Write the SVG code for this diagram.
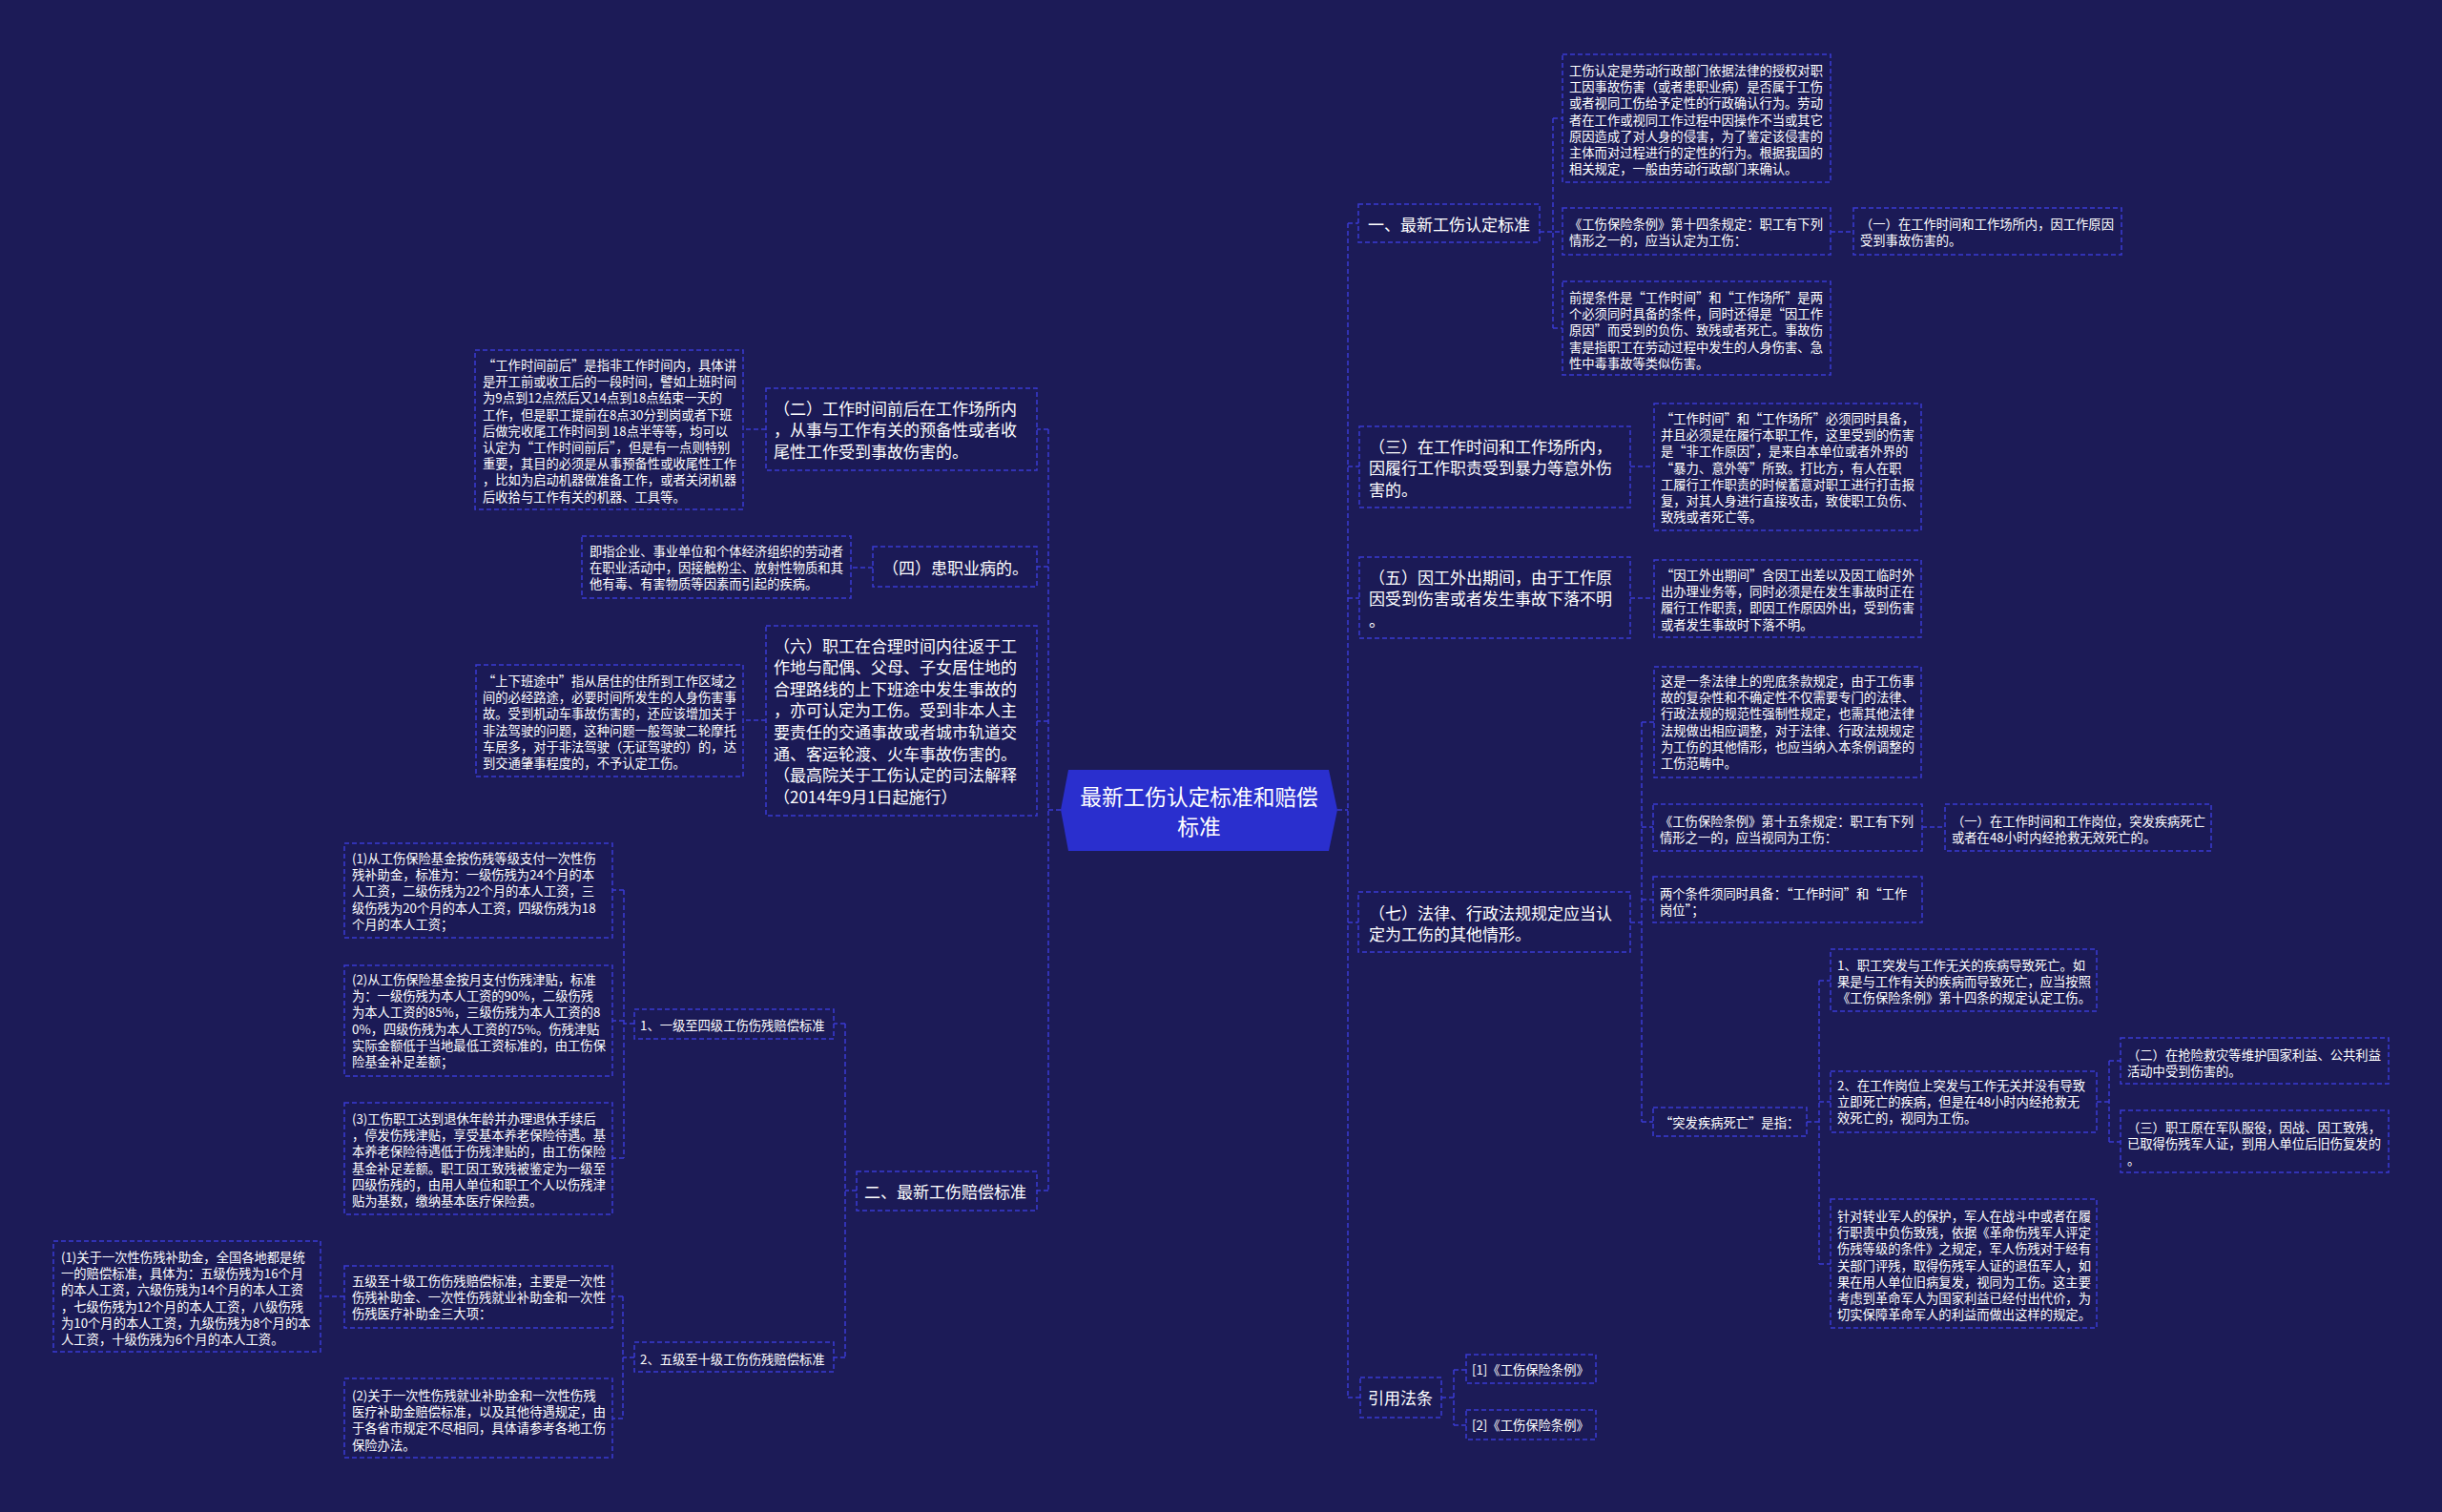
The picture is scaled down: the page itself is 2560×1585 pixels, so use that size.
<svg xmlns="http://www.w3.org/2000/svg" width="2560" height="1585" viewBox="0 0 2560 1585">
<style>
.box{fill:#1b1a56;stroke:#3a3bd3;stroke-width:1.5;stroke-dasharray:5 3}
.t{font-family:"Noto Sans CJK SC","Noto Sans",sans-serif;fill:#ffffff}
.s{font-size:13.3px}
.m{font-size:17px}
.c{font-size:22.7px}
#connectors path{fill:none;stroke:#3a3bd3;stroke-width:1.5;stroke-dasharray:5 3}
</style>
<rect width="2560" height="1585" fill="#1c1b57"/>
<g id="connectors">
<path d="M1402,849H1413M1413,234V1465M1413,234H1424M1413,489H1425M1413,627H1425M1413,967H1424M1413,1465H1426"/>
<path d="M1614,243H1638M1628,124V344M1628,124H1638M1628,344H1638M1919,243H1943"/>
<path d="M1709,489H1734M1709,627H1734"/>
<path d="M1709,967H1721M1721,757V1176M1721,757H1734M1721,867H1733M1721,943H1733M1721,1176H1733M2015,867H2039"/>
<path d="M1894,1176H1907M1907,1028V1325M1907,1028H1919M1907,1155H1919M1907,1325H1919"/>
<path d="M2198,1155H2211M2211,1112V1197M2211,1112H2223M2211,1197H2223"/>
<path d="M1511,1465H1524M1524,1436V1494M1524,1436H1537M1524,1494H1537"/>
<path d="M1112,849H1099M1099,450V1248M1099,450H1087M1099,594H1087M1099,756H1087M1099,1248H1087"/>
<path d="M803,450H779M915,595H892M803,755H779"/>
<path d="M898,1248H886M886,1073V1423M886,1073H874M886,1423H874"/>
<path d="M665,1073H654M654,933V1214M654,933H642M654,1070H642M654,1214H642"/>
<path d="M665,1423H653M653,1359V1487M653,1359H642M653,1487H642M361,1359H336"/>
</g>

<g id="center">
<polygon points="1112,849 1120,807 1393,807 1402,849 1393,892 1120,892" fill="#2a2fce"/>
<text class="t c" text-anchor="middle" x="1257" y="843.6">最新工伤认定标准和赔偿</text>
<text class="t c" text-anchor="middle" x="1257" y="874.6">标准</text>
</g>

<g id="r1">
<rect class="box" x="1424" y="214" width="190" height="40"/>
<text class="t m" x="1434" y="241.5">一、最新工伤认定标准</text>
</g>
<g id="r1a">
<rect class="box" x="1638" y="57" width="281" height="134"/>
<text class="t s" x="1645" y="79"><tspan x="1645">工伤认定是劳动行政部门依据法律的授权对职</tspan><tspan x="1645" dy="17.2">工因事故伤害（或者患职业病）是否属于工伤</tspan><tspan x="1645" dy="17.2">或者视同工伤给予定性的行政确认行为。劳动</tspan><tspan x="1645" dy="17.2">者在工作或视同工作过程中因操作不当或其它</tspan><tspan x="1645" dy="17.2">原因造成了对人身的侵害，为了鉴定该侵害的</tspan><tspan x="1645" dy="17.2">主体而对过程进行的定性的行为。根据我国的</tspan><tspan x="1645" dy="17.2">相关规定，一般由劳动行政部门来确认。</tspan></text>
</g>
<g id="r1b">
<rect class="box" x="1638" y="218" width="281" height="49"/>
<text class="t s" x="1645" y="240"><tspan x="1645">《工伤保险条例》第十四条规定：职工有下列</tspan><tspan x="1645" dy="17.2">情形之一的，应当认定为工伤：</tspan></text>
</g>
<g id="r1b1">
<rect class="box" x="1943" y="218" width="281" height="49"/>
<text class="t s" x="1950" y="240"><tspan x="1950">（一）在工作时间和工作场所内，因工作原因</tspan><tspan x="1950" dy="17.2">受到事故伤害的。</tspan></text>
</g>
<g id="r1c">
<rect class="box" x="1638" y="295" width="281" height="98"/>
<text class="t s" x="1645" y="317"><tspan x="1645">前提条件是“工作时间”和“工作场所”是两</tspan><tspan x="1645" dy="17.2">个必须同时具备的条件，同时还得是“因工作</tspan><tspan x="1645" dy="17.2">原因”而受到的负伤、致残或者死亡。事故伤</tspan><tspan x="1645" dy="17.2">害是指职工在劳动过程中发生的人身伤害、急</tspan><tspan x="1645" dy="17.2">性中毒事故等类似伤害。</tspan></text>
</g>

<g id="r3">
<rect class="box" x="1425" y="447" width="284" height="85"/>
<text class="t m" x="1435" y="474.5"><tspan x="1435">（三）在工作时间和工作场所内，</tspan><tspan x="1435" dy="22.6">因履行工作职责受到暴力等意外伤</tspan><tspan x="1435" dy="22.6">害的。</tspan></text>
</g>
<g id="r3a">
<rect class="box" x="1734" y="423" width="280" height="133"/>
<text class="t s" x="1741" y="444"><tspan x="1741">“工作时间”和“工作场所”必须同时具备，</tspan><tspan x="1741" dy="17.2">并且必须是在履行本职工作，这里受到的伤害</tspan><tspan x="1741" dy="17.2">是“非工作原因”，是来自本单位或者外界的</tspan><tspan x="1741" dy="17.2">“暴力、意外等”所致。打比方，有人在职</tspan><tspan x="1741" dy="17.2">工履行工作职责的时候蓄意对职工进行打击报</tspan><tspan x="1741" dy="17.2">复，对其人身进行直接攻击，致使职工负伤、</tspan><tspan x="1741" dy="17.2">致残或者死亡等。</tspan></text>
</g>

<g id="r5">
<rect class="box" x="1425" y="584" width="284" height="85"/>
<text class="t m" x="1435" y="611.5"><tspan x="1435">（五）因工外出期间，由于工作原</tspan><tspan x="1435" dy="22.6">因受到伤害或者发生事故下落不明</tspan><tspan x="1435" dy="22.6">。</tspan></text>
</g>
<g id="r5a">
<rect class="box" x="1734" y="587" width="280" height="81"/>
<text class="t s" x="1741" y="608"><tspan x="1741">“因工外出期间”含因工出差以及因工临时外</tspan><tspan x="1741" dy="17.2">出办理业务等，同时必须是在发生事故时正在</tspan><tspan x="1741" dy="17.2">履行工作职责，即因工作原因外出，受到伤害</tspan><tspan x="1741" dy="17.2">或者发生事故时下落不明。</tspan></text>
</g>

<g id="r7">
<rect class="box" x="1424" y="935" width="285" height="63"/>
<text class="t m" x="1435" y="963.5"><tspan x="1435">（七）法律、行政法规规定应当认</tspan><tspan x="1435" dy="22.6">定为工伤的其他情形。</tspan></text>
</g>
<g id="r7a">
<rect class="box" x="1734" y="699" width="280" height="116"/>
<text class="t s" x="1741" y="719"><tspan x="1741">这是一条法律上的兜底条款规定，由于工伤事</tspan><tspan x="1741" dy="17.2">故的复杂性和不确定性不仅需要专门的法律、</tspan><tspan x="1741" dy="17.2">行政法规的规范性强制性规定，也需其他法律</tspan><tspan x="1741" dy="17.2">法规做出相应调整，对于法律、行政法规规定</tspan><tspan x="1741" dy="17.2">为工伤的其他情形，也应当纳入本条例调整的</tspan><tspan x="1741" dy="17.2">工伤范畴中。</tspan></text>
</g>
<g id="r7b">
<rect class="box" x="1733" y="843" width="282" height="49"/>
<text class="t s" x="1740" y="866"><tspan x="1740">《工伤保险条例》第十五条规定：职工有下列</tspan><tspan x="1740" dy="17.2">情形之一的，应当视同为工伤：</tspan></text>
</g>
<g id="r7b1">
<rect class="box" x="2039" y="843" width="279" height="49"/>
<text class="t s" x="2046" y="866"><tspan x="2046">（一）在工作时间和工作岗位，突发疾病死亡</tspan><tspan x="2046" dy="17.2">或者在48小时内经抢救无效死亡的。</tspan></text>
</g>
<g id="r7c">
<rect class="box" x="1733" y="919" width="282" height="48"/>
<text class="t s" x="1740" y="942"><tspan x="1740">两个条件须同时具备：“工作时间”和“工作</tspan><tspan x="1740" dy="17.2">岗位”；</tspan></text>
</g>
<g id="r7d">
<rect class="box" x="1733" y="1161" width="161" height="30"/>
<text class="t s" x="1740" y="1182">“突发疾病死亡”是指：</text>
</g>
<g id="r7d1">
<rect class="box" x="1919" y="995" width="279" height="65"/>
<text class="t s" x="1926" y="1017"><tspan x="1926">1、职工突发与工作无关的疾病导致死亡。如</tspan><tspan x="1926" dy="17.2">果是与工作有关的疾病而导致死亡，应当按照</tspan><tspan x="1926" dy="17.2">《工伤保险条例》第十四条的规定认定工伤。</tspan></text>
</g>
<g id="r7d2">
<rect class="box" x="1919" y="1123" width="279" height="64"/>
<text class="t s" x="1926" y="1143"><tspan x="1926">2、在工作岗位上突发与工作无关并没有导致</tspan><tspan x="1926" dy="17.2">立即死亡的疾病，但是在48小时内经抢救无</tspan><tspan x="1926" dy="17.2">效死亡的，视同为工伤。</tspan></text>
</g>
<g id="r7d2a">
<rect class="box" x="2223" y="1088" width="281" height="48"/>
<text class="t s" x="2230" y="1111"><tspan x="2230">（二）在抢险救灾等维护国家利益、公共利益</tspan><tspan x="2230" dy="17.2">活动中受到伤害的。</tspan></text>
</g>
<g id="r7d2b">
<rect class="box" x="2223" y="1164" width="281" height="65"/>
<text class="t s" x="2230" y="1187"><tspan x="2230">（三）职工原在军队服役，因战、因工致残，</tspan><tspan x="2230" dy="17.2">已取得伤残军人证，到用人单位后旧伤复发的</tspan><tspan x="2230" dy="17.2">。</tspan></text>
</g>
<g id="r7d3">
<rect class="box" x="1919" y="1257" width="279" height="135"/>
<text class="t s" x="1926" y="1280"><tspan x="1926">针对转业军人的保护，军人在战斗中或者在履</tspan><tspan x="1926" dy="17.2">行职责中负伤致残，依据《革命伤残军人评定</tspan><tspan x="1926" dy="17.2">伤残等级的条件》之规定，军人伤残对于经有</tspan><tspan x="1926" dy="17.2">关部门评残，取得伤残军人证的退伍军人，如</tspan><tspan x="1926" dy="17.2">果在用人单位旧病复发，视同为工伤。这主要</tspan><tspan x="1926" dy="17.2">考虑到革命军人为国家利益已经付出代价，为</tspan><tspan x="1926" dy="17.2">切实保障革命军人的利益而做出这样的规定。</tspan></text>
</g>

<g id="r9">
<rect class="box" x="1426" y="1444" width="85" height="42"/>
<text class="t m" x="1434" y="1471.5">引用法条</text>
</g>
<g id="r9a">
<rect class="box" x="1537" y="1420" width="136" height="30"/>
<text class="t s" x="1543" y="1441">[1]《工伤保险条例》</text>
</g>
<g id="r9b">
<rect class="box" x="1537" y="1478" width="136" height="31"/>
<text class="t s" x="1543" y="1499">[2]《工伤保险条例》</text>
</g>

<g id="l2">
<rect class="box" x="803" y="407" width="284" height="86"/>
<text class="t m" x="811" y="434.5"><tspan x="811">（二）工作时间前后在工作场所内</tspan><tspan x="811" dy="22.6">，从事与工作有关的预备性或者收</tspan><tspan x="811" dy="22.6">尾性工作受到事故伤害的。</tspan></text>
</g>
<g id="l2a">
<rect class="box" x="498" y="367" width="281" height="167"/>
<text class="t s" x="506" y="388"><tspan x="506">“工作时间前后”是指非工作时间内，具体讲</tspan><tspan x="506" dy="17.2">是开工前或收工后的一段时间，譬如上班时间</tspan><tspan x="506" dy="17.2">为9点到12点然后又14点到18点结束一天的</tspan><tspan x="506" dy="17.2">工作，但是职工提前在8点30分到岗或者下班</tspan><tspan x="506" dy="17.2">后做完收尾工作时间到 18点半等等，均可以</tspan><tspan x="506" dy="17.2">认定为“工作时间前后”，但是有一点则特别</tspan><tspan x="506" dy="17.2">重要，其目的必须是从事预备性或收尾性工作</tspan><tspan x="506" dy="17.2">，比如为启动机器做准备工作，或者关闭机器</tspan><tspan x="506" dy="17.2">后收拾与工作有关的机器、工具等。</tspan></text>
</g>
<g id="l4">
<rect class="box" x="915" y="573" width="172" height="42"/>
<text class="t m" x="925" y="601.5">（四）患职业病的。</text>
</g>
<g id="l4a">
<rect class="box" x="610" y="562" width="282" height="65"/>
<text class="t s" x="618" y="583"><tspan x="618">即指企业、事业单位和个体经济组织的劳动者</tspan><tspan x="618" dy="17.2">在职业活动中，因接触粉尘、放射性物质和其</tspan><tspan x="618" dy="17.2">他有毒、有害物质等因素而引起的疾病。</tspan></text>
</g>
<g id="l6">
<rect class="box" x="803" y="656" width="284" height="199"/>
<text class="t m" x="811" y="683.5"><tspan x="811">（六）职工在合理时间内往返于工</tspan><tspan x="811" dy="22.6">作地与配偶、父母、子女居住地的</tspan><tspan x="811" dy="22.6">合理路线的上下班途中发生事故的</tspan><tspan x="811" dy="22.6">，亦可认定为工伤。受到非本人主</tspan><tspan x="811" dy="22.6">要责任的交通事故或者城市轨道交</tspan><tspan x="811" dy="22.6">通、客运轮渡、火车事故伤害的。</tspan><tspan x="811" dy="22.6">（最高院关于工伤认定的司法解释</tspan><tspan x="811" dy="22.6">（2014年9月1日起施行）</tspan></text>
</g>
<g id="l6a">
<rect class="box" x="499" y="697" width="280" height="117"/>
<text class="t s" x="506" y="719"><tspan x="506">“上下班途中”指从居住的住所到工作区域之</tspan><tspan x="506" dy="17.2">间的必经路途，必要时间所发生的人身伤害事</tspan><tspan x="506" dy="17.2">故。受到机动车事故伤害的，还应该增加关于</tspan><tspan x="506" dy="17.2">非法驾驶的问题，这种问题一般驾驶二轮摩托</tspan><tspan x="506" dy="17.2">车居多，对于非法驾驶（无证驾驶的）的，达</tspan><tspan x="506" dy="17.2">到交通肇事程度的，不予认定工伤。</tspan></text>
</g>

<g id="l8">
<rect class="box" x="898" y="1228" width="189" height="41"/>
<text class="t m" x="906" y="1255.5">二、最新工伤赔偿标准</text>
</g>
<g id="l8a">
<rect class="box" x="665" y="1058" width="209" height="31"/>
<text class="t s" x="671" y="1080">1、一级至四级工伤伤残赔偿标准</text>
</g>
<g id="l8a1">
<rect class="box" x="361" y="884" width="281" height="99"/>
<text class="t s" x="369" y="905"><tspan x="369">(1)从工伤保险基金按伤残等级支付一次性伤</tspan><tspan x="369" dy="17.2">残补助金，标准为：一级伤残为24个月的本</tspan><tspan x="369" dy="17.2">人工资，二级伤残为22个月的本人工资，三</tspan><tspan x="369" dy="17.2">级伤残为20个月的本人工资，四级伤残为18</tspan><tspan x="369" dy="17.2">个月的本人工资；</tspan></text>
</g>
<g id="l8a2">
<rect class="box" x="361" y="1012" width="281" height="116"/>
<text class="t s" x="369" y="1032"><tspan x="369">(2)从工伤保险基金按月支付伤残津贴，标准</tspan><tspan x="369" dy="17.2">为：一级伤残为本人工资的90%，二级伤残</tspan><tspan x="369" dy="17.2">为本人工资的85%，三级伤残为本人工资的8</tspan><tspan x="369" dy="17.2">0%，四级伤残为本人工资的75%。伤残津贴</tspan><tspan x="369" dy="17.2">实际金额低于当地最低工资标准的，由工伤保</tspan><tspan x="369" dy="17.2">险基金补足差额；</tspan></text>
</g>
<g id="l8a3">
<rect class="box" x="361" y="1156" width="281" height="117"/>
<text class="t s" x="369" y="1178"><tspan x="369">(3)工伤职工达到退休年龄并办理退休手续后</tspan><tspan x="369" dy="17.2">，停发伤残津贴，享受基本养老保险待遇。基</tspan><tspan x="369" dy="17.2">本养老保险待遇低于伤残津贴的，由工伤保险</tspan><tspan x="369" dy="17.2">基金补足差额。职工因工致残被鉴定为一级至</tspan><tspan x="369" dy="17.2">四级伤残的，由用人单位和职工个人以伤残津</tspan><tspan x="369" dy="17.2">贴为基数，缴纳基本医疗保险费。</tspan></text>
</g>
<g id="l8b">
<rect class="box" x="665" y="1407" width="209" height="31"/>
<text class="t s" x="671" y="1430">2、五级至十级工伤伤残赔偿标准</text>
</g>
<g id="l8b1">
<rect class="box" x="361" y="1327" width="281" height="65"/>
<text class="t s" x="369" y="1348"><tspan x="369">五级至十级工伤伤残赔偿标准，主要是一次性</tspan><tspan x="369" dy="17.2">伤残补助金、一次性伤残就业补助金和一次性</tspan><tspan x="369" dy="17.2">伤残医疗补助金三大项：</tspan></text>
</g>
<g id="l8b1a">
<rect class="box" x="56" y="1301" width="280" height="116"/>
<text class="t s" x="64" y="1323"><tspan x="64">(1)关于一次性伤残补助金，全国各地都是统</tspan><tspan x="64" dy="17.2">一的赔偿标准，具体为：五级伤残为16个月</tspan><tspan x="64" dy="17.2">的本人工资，六级伤残为14个月的本人工资</tspan><tspan x="64" dy="17.2">，七级伤残为12个月的本人工资，八级伤残</tspan><tspan x="64" dy="17.2">为10个月的本人工资，九级伤残为8个月的本</tspan><tspan x="64" dy="17.2">人工资，十级伤残为6个月的本人工资。</tspan></text>
</g>
<g id="l8b2">
<rect class="box" x="361" y="1445" width="281" height="83"/>
<text class="t s" x="369" y="1468"><tspan x="369">(2)关于一次性伤残就业补助金和一次性伤残</tspan><tspan x="369" dy="17.2">医疗补助金赔偿标准，以及其他待遇规定，由</tspan><tspan x="369" dy="17.2">于各省市规定不尽相同，具体请参考各地工伤</tspan><tspan x="369" dy="17.2">保险办法。</tspan></text>
</g>
</svg>
